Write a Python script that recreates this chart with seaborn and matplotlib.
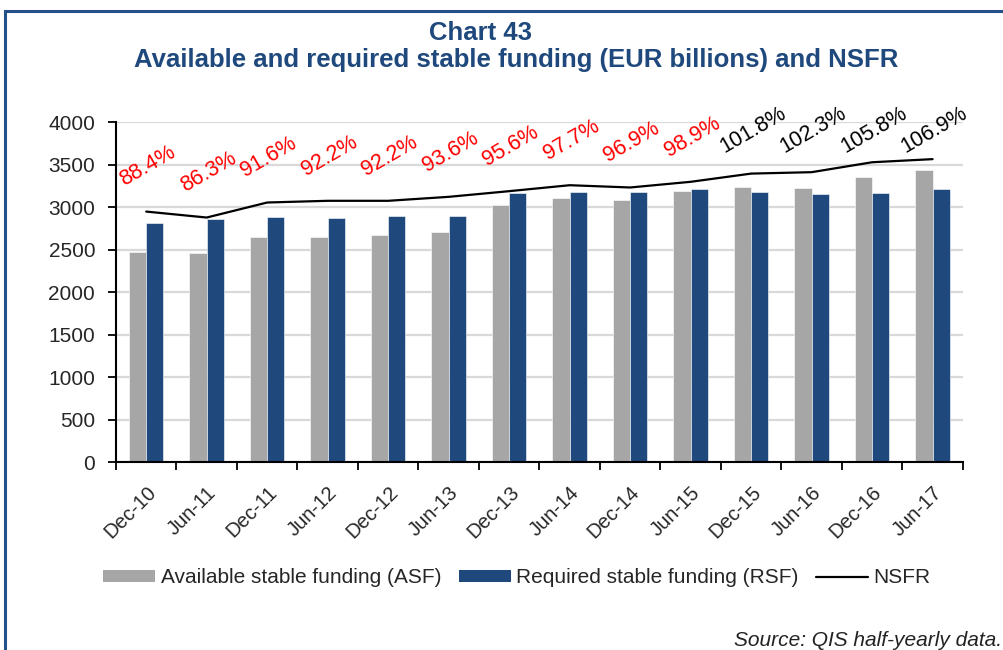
import numpy as np
import pandas as pd
import matplotlib
matplotlib.use("Agg")
import matplotlib.pyplot as plt
from matplotlib.patches import Patch, Rectangle
from matplotlib.lines import Line2D
import seaborn as sns

# Half-yearly observation dates
periods = ["Dec-10", "Jun-11", "Dec-11", "Jun-12", "Dec-12", "Jun-13", "Dec-13",
           "Jun-14", "Dec-14", "Jun-15", "Dec-15", "Jun-16", "Dec-16", "Jun-17"]

# Available stable funding (EUR billions)
asf = [2474, 2462, 2643, 2651, 2671, 2710, 3020,
       3110, 3082, 3184, 3235, 3220, 3353, 3431]

# Required stable funding (EUR billions)
rsf = [2808, 2859, 2886, 2874, 2894, 2894, 3161,
       3180, 3180, 3216, 3173, 3149, 3168, 3208]

# Net stable funding ratio (%)
nsfr = [88.4, 86.3, 91.6, 92.2, 92.2, 93.6, 95.6,
        97.7, 96.9, 98.9, 101.8, 102.3, 105.8, 106.9]

series_names = ["Available stable funding (ASF)", "Required stable funding (RSF)"]
y_ticks = [0, 500, 1000, 1500, 2000, 2500, 3000, 3500, 4000]

GREY = "#A6A6A6"
BLUE = "#1F497D"
TITLE_BLUE = "#1F497D"
FONT = ["Liberation Sans", "DejaVu Sans"]

sns.set_theme(style="white")
plt.rcParams["font.family"] = FONT

df = pd.DataFrame({
    "period": periods * 2,
    "value": asf + rsf,
    "series": [series_names[0]] * len(periods) + [series_names[1]] * len(periods),
})

fig = plt.figure(figsize=(10.04, 6.5), dpi=100)
ax = fig.add_axes([0.1155, 0.289, 0.8435, 0.5233])

sns.barplot(data=df, x="period", y="value", hue="series", order=periods,
            hue_order=series_names, palette=[GREY, BLUE], width=0.57, gap=0,
            edgecolor="white", linewidth=0.4, saturation=1, ax=ax, legend=False)

ax.set_ylim(0, 4000)
ax.set_xlim(-0.5, len(periods) - 0.5)
ax.set_yticks(y_ticks)
ax.set_yticklabels([str(t) for t in y_ticks], fontsize=15)
ax.yaxis.grid(True, color="#D9D9D9", linewidth=1.6)
ax.set_axisbelow(True)
ax.set_xlabel("")
ax.set_ylabel("")

# Category labels at centres, tick marks on the boundaries
ax.set_xticks(np.arange(len(periods)))
ax.set_xticklabels(periods, rotation=45, ha="right", rotation_mode="anchor",
                   fontsize=14.5)
ax.set_xticks(np.arange(len(periods) + 1) - 0.5, minor=True)
ax.tick_params(axis="x", which="major", length=0, pad=15)
ax.tick_params(axis="x", which="minor", length=6, width=1.3, color="black",
               direction="out", bottom=True)
ax.tick_params(axis="y", length=6, width=1.3, color="black", direction="out",
               left=True, pad=9)

for side in ["top", "right"]:
    ax.spines[side].set_visible(False)
for side in ["left", "bottom"]:
    ax.spines[side].set_color("black")
    ax.spines[side].set_linewidth(1.5)

# NSFR on a hidden secondary scale (0-120%)
ax2 = ax.twinx()
ratio = np.array(nsfr) / 100.0
sns.lineplot(x=np.arange(len(periods)), y=ratio, color="black", linewidth=1.6,
             ax=ax2, legend=False)
ax2.set_ylim(0, 1.2)
ax2.set_xlim(-0.5, len(periods) - 0.5)
ax2.axis("off")

for i, r in enumerate(ratio):
    colour = "red" if r < 1.0 else "black"
    ax2.text(i + 0.03, min(r + 0.159, 1.17), f"{nsfr[i]:.1f}%", color=colour,
             fontsize=15.5, rotation=30, ha="center", va="center",
             rotation_mode="anchor", clip_on=False)

# Titles
fig.text(0.479, 0.950, "Chart 43", ha="center", va="center", fontsize=18.5,
         fontweight="bold", color=TITLE_BLUE)
fig.text(0.514, 0.907,
         "Available and required stable funding (EUR billions) and NSFR",
         ha="center", va="center", fontsize=18.5, fontweight="bold",
         color=TITLE_BLUE)

# Legend
handles = [Patch(facecolor=GREY, edgecolor="none"),
           Patch(facecolor=BLUE, edgecolor="none"),
           Line2D([0], [0], color="black", linewidth=1.6)]
labels = series_names + ["NSFR"]
fig.legend(handles, labels, loc="center", bbox_to_anchor=(0.515, 0.111),
           ncol=3, frameon=False, fontsize=15, handlelength=2.5,
           handleheight=0.52, handletextpad=0.25, columnspacing=0.85)

fig.text(0.998, 0.014, "Source: QIS half-yearly data.", ha="right",
         va="center", fontsize=15, fontstyle="italic", color="#222222")

# Border frame
fig.add_artist(Rectangle((0.005, -0.1), 1.2, 1.083, transform=fig.transFigure,
                         fill=False, edgecolor="#24508A", linewidth=2.2))

fig.savefig("out.png", dpi=100)
